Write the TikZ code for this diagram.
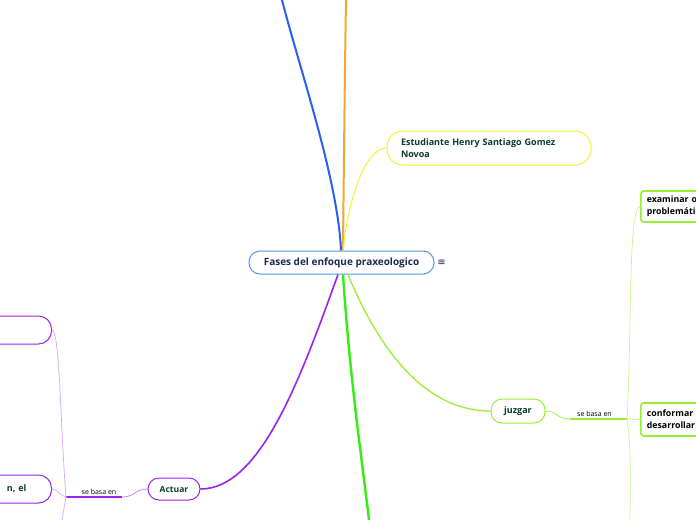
\documentclass[tikz,border=0pt]{standalone}
\usepackage{fontspec}
\setmainfont{Open Sans}
\newfontfamily\symfont{DejaVu Sans}
\definecolor{navy}{HTML}{1A2B4C}
\definecolor{skyline}{HTML}{4A9AE0}
\definecolor{blueline}{HTML}{2B5FF0}
\definecolor{orangeline}{HTML}{F5A630}
\definecolor{yellowline}{HTML}{F0F03A}
\definecolor{limeline}{HTML}{99EE33}
\definecolor{greenline}{HTML}{33EE11}
\definecolor{purpleline}{HTML}{9B22F0}
\definecolor{darkgreen}{HTML}{0D3B2E}

\begin{document}
\begin{tikzpicture}[x=1pt, y=-1pt,
  every node/.style={font=\bfseries\fontsize{8.5}{12}\selectfont},
  topic/.style={draw, fill=white, rounded corners=11pt, line width=1pt, inner sep=0pt, text=darkgreen},
  subtopic/.style={draw, fill=white, rounded corners=3pt, line width=1.6pt, inner sep=0pt, text=black, align=left, font=\bfseries\fontsize{8.8}{12}\selectfont},
  basa/.style={font=\fontsize{7}{8}\selectfont, text=black, inner sep=2pt},
  thin/.style={line width=0.7pt}]
\useasboundingbox (0,0) rectangle (696,520);
\fill[white] (0,0) rectangle (696,520);
\clip (0,0) rectangle (696,520);

% central topic
\node[draw=skyline, fill=white, line width=1pt, rounded corners=11pt, minimum width=185pt, minimum height=23pt, text=navy, font=\bfseries\fontsize{10}{12}\selectfont] (center) at (341.5,262.5) {Fases del enfoque praxeologico};
\node[text=navy, font=\symfont\fontsize{10}{12}\selectfont, inner sep=0pt] (menu) at (441.5,262.5) {≡};

% main topics
\node[topic, draw=yellowline, rounded corners=16pt, minimum width=204pt, minimum height=34pt, text width=176pt, align=left, font=\bfseries\fontsize{9}{12}\selectfont] (estud) at (489,148) {Estudiante Henry Santiago Gomez\\Novoa};
\node[topic, draw=limeline, minimum width=54pt, minimum height=24pt, font=\bfseries\fontsize{9}{12}\selectfont] (juzgar) at (518,411) {juzgar};
\node[topic, draw=purpleline, minimum width=52pt, minimum height=22pt] (actuar) at (174,489) {Actuar};

% sub topics of juzgar
\node[subtopic, draw=limeline, anchor=west, minimum width=100pt, minimum height=31pt, text width=88pt] (examinar) at (640,206.5) {examinar o\\problemátic};
\node[subtopic, draw=limeline, anchor=west, minimum width=100pt, minimum height=33pt, text width=88pt] (conformar) at (640,419.5) {conformar\\desarrollar};

% sub topics of actuar
\node[topic, draw=purpleline, rounded corners=13pt, minimum width=120pt, minimum height=28pt, anchor=east] (accion1) at (52,330) {};
\node[topic, draw=purpleline, rounded corners=13pt, minimum height=28pt, text width=94pt, align=right, inner xsep=25pt, anchor=east, font=\bfseries\fontsize{9}{12}\selectfont] (accion2) at (52,489) {n, el};

% free ends and hubs
\coordinate (blueend) at (282,0);
\coordinate (orangeend) at (346,0);
\coordinate (greenend) at (369,520);
\coordinate (jzstart) at (570,419);
\coordinate (jzhub) at (627,419);
\coordinate (jzend) at (630,520);
\coordinate (acstart) at (122,497);
\coordinate (achub) at (66,497);
\coordinate (acend) at (62,520);

% branches
\draw[blueline, line width=2pt] ([xshift=-0.5pt]center.north) .. controls (338,180) and (300,70) .. (blueend);
\draw[orangeline, line width=2pt] ([xshift=1.5pt]center.north) .. controls (344,150) and (345,60) .. (orangeend);
\draw[yellowline, line width=1pt] ([xshift=1.5pt]center.north) .. controls (348,200) and (365,148) .. (estud.west);
\draw[limeline, line width=1.3pt] ([xshift=6.5pt]center.south) .. controls (375,340) and (420,411) .. (juzgar.west);
\draw[greenline, line width=2.4pt] ([xshift=1.5pt]center.south) .. controls (350,380) and (362,460) .. (greenend);
\draw[purpleline, line width=1.6pt] ([xshift=-3.5pt]center.south) .. controls (300,380) and (260,489) .. (actuar.east);

% juzgar -> se basa en
\draw[limeline, thin] (juzgar.east) .. controls (558,411) and (556,419) .. (jzstart);
\draw[limeline, line width=1.5pt] (jzstart) -- node[basa, above, xshift=-4pt] (jzbasa) {se basa en} (jzhub);
\draw[limeline!55, thin] (jzhub) .. controls (632,330) and (628,208) .. (examinar.west);
\draw[limeline!55, thin] (jzhub) .. controls (634,419) and (636,419.5) .. (conformar.west);
\draw[limeline!55, thin] (jzhub) .. controls (632,450) and (630,500) .. (jzend);

% actuar -> se basa en
\draw[purpleline!60, thin] (actuar.west) .. controls (135,489) and (135,497) .. (acstart);
\draw[purpleline, line width=1.5pt] (acstart) -- node[basa, above, xshift=5pt] (acbasa) {se basa en} (achub);
\draw[purpleline!40, thin] (achub) .. controls (60,420) and (60,332) .. (accion1.east);
\draw[purpleline!40, thin] (achub) .. controls (60,496) and (58,489) .. (accion2.east);
\draw[purpleline!40, thin] (achub) -- (acend);
\end{tikzpicture}
\end{document}
